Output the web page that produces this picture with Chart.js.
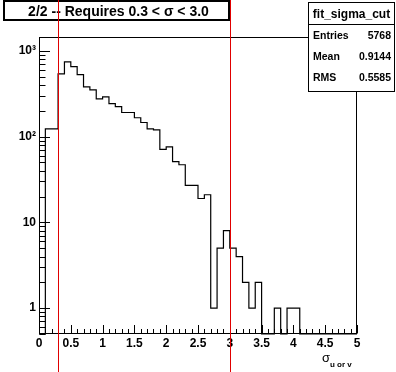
<!DOCTYPE html>
<html><head><meta charset="utf-8">
<script src="https://cdn.jsdelivr.net/npm/chart.js@4/dist/chart.umd.min.js"></script>
<style>html,body{margin:0;padding:0;background:#fff}#wrap{width:396px;height:372px;position:relative}</style>
</head><body>
<div id="wrap"><canvas id="c" width="396" height="372"></canvas></div>
<script>
// ---- data ----
const binLow = [0.0,0.1,0.2,0.3,0.4,0.5,0.6,0.7,0.8,0.9,
                1.0,1.1,1.2,1.3,1.4,1.5,1.6,1.7,1.8,1.9,
                2.0,2.1,2.2,2.3,2.4,2.5,2.6,2.7,2.8,2.9,
                3.0,3.1,3.2,3.3,3.4,3.5,3.6,3.7,3.8,3.9,
                4.0,4.1,4.2,4.3,4.4,4.5,4.6,4.7,4.8,4.9];
const counts = [0,123,123,540,745,656,529,380,351,276,
                291,243,224,191,191,166,146,123,120,71,
                76,51,47,27,27,19,21,1,5,8,
                5,4,2,1,2,0,0,1,0,1,
                1,0,0,0,0,0,0,0,0,0];
const xRange = [0, 5];
const yRange = [0.5, 1450];
const xTickLabels = [0,0.5,1,1.5,2,2.5,3,3.5,4,4.5,5];
const yTickValues = [1,10,100,1000];
const yTickLabels = ['1','10','10\u00B2','10\u00B3'];
const cuts = [0.3, 3.0];
const titleText = '2/2 -- Requires 0.3 < \u03C3 < 3.0';
const statsName = 'fit_sigma_cut';
const statsLabels = ['Entries','Mean','RMS'];
const statsValues = ['5768','0.9144','0.5585'];

const FONT = '"Liberation Sans", Arial, Helvetica, sans-serif';

const points = binLow.map((x,i)=>({x:x, y:Math.max(counts[i], yRange[0])}));
points.push({x:xRange[1], y:Math.max(counts[counts.length-1], yRange[0])});

const overlay = {
  id:'overlay',
  afterDraw(chart){
    const ctx = chart.ctx, a = chart.chartArea, xs = chart.scales.x, ys = chart.scales.y;
    ctx.save();
    ctx.strokeStyle = '#000'; ctx.lineWidth = 1;
    const L = Math.round(a.left)+0.5, R = Math.round(a.right)-0.5, T = Math.round(a.top)+0.5, B = Math.round(a.bottom)-0.5;
    ctx.strokeRect(L, T, R-L, B-T);
    ctx.beginPath();
    for (let k=0;k<=50;k++){
      const v = k/10; const px = Math.round(xs.getPixelForValue(v))+0.5;
      const len = (k%5===0)?8.5:4.5;
      ctx.moveTo(px, B); ctx.lineTo(px, B-len);
    }
    for (let d of [0.1,1,10,100,1000]){
      for (let k=1;k<=9;k++){
        const v = k*d;
        if (v < yRange[0] || v > yRange[1]) continue;
        const py = Math.round(ys.getPixelForValue(v))+0.5;
        const len = (k===1)?10.5:6;
        ctx.moveTo(L, py); ctx.lineTo(L+len, py);
      }
    }
    ctx.stroke();

    // title box
    ctx.fillStyle='#fff';
    ctx.fillRect(4,1,225,19);
    ctx.lineWidth=2;
    ctx.strokeRect(4,1,225,19);
    ctx.fillStyle='#000';
    ctx.font='bold 14px '+FONT;
    ctx.textAlign='center'; ctx.textBaseline='alphabetic';
    ctx.fillText(titleText, 118.5, 15.5);

    // stats box
    ctx.lineWidth=1;
    ctx.fillStyle='#fff';
    ctx.fillRect(308.5,2.5,86,89);
    ctx.strokeRect(308.5,2.5,86,89);
    ctx.beginPath(); ctx.moveTo(308.5,24.5); ctx.lineTo(394.5,24.5); ctx.stroke();
    ctx.fillStyle='#000';
    ctx.font='bold 12px '+FONT;
    ctx.textAlign='center';
    ctx.fillText(statsName, 351.5, 18);
    ctx.font='bold 10.5px '+FONT;
    const rowsY=[39,59.5,81];
    statsLabels.forEach((s,i)=>{
      ctx.textAlign='left'; ctx.fillText(s, 313, rowsY[i]);
      ctx.textAlign='right'; ctx.fillText(statsValues[i], 391, rowsY[i]);
    });

    // axis title
    ctx.textAlign='left';
    ctx.font='13px '+FONT;
    ctx.fillText('\u03C3', 322, 362);
    ctx.font='bold 8px '+FONT;
    ctx.fillText('u or v', 330, 367);

    // cut lines
    ctx.strokeStyle='#e00000'; ctx.lineWidth=1;
    ctx.beginPath();
    cuts.forEach(c=>{
      const px = Math.round(xs.getPixelForValue(c))+0.5;
      ctx.moveTo(px,0); ctx.lineTo(px,372);
    });
    ctx.stroke();
    ctx.restore();
  }
};

new Chart(document.getElementById('c'), {
  type:'line',
  data:{datasets:[{
    data:points, borderColor:'#000', borderWidth:1.2, pointRadius:0, fill:false,
    stepped:true, tension:0, clip:2
  }]},
  options:{
    responsive:false, animation:false, devicePixelRatio:1,
    layout:{padding:{left:0, top:37, right:39, bottom:0}},
    plugins:{legend:{display:false}, tooltip:{enabled:false}, title:{display:false}},
    scales:{
      x:{type:'linear', min:xRange[0], max:xRange[1],
         grid:{display:false, drawTicks:false}, border:{display:false},
         afterFit(s){ s.height = 38; },
         afterBuildTicks(s){ s.ticks = xTickLabels.map(v=>({value:v})); },
         ticks:{color:'#000', font:{family:FONT, size:12, weight:'bold'}, padding:2, maxRotation:0, autoSkip:false,
                callback:(v)=>String(v)}},
      y:{type:'logarithmic', min:yRange[0], max:yRange[1],
         grid:{display:false, drawTicks:false}, border:{display:false},
         afterFit(s){ s.width = 39; },
         afterBuildTicks(s){ s.ticks = yTickValues.map(v=>({value:v})); },
         ticks:{color:'#000', font:{family:FONT, size:12, weight:'bold'}, padding:3, autoSkip:false,
                callback:(v)=>{ const i=yTickValues.indexOf(v); return i>=0?yTickLabels[i]:''; }}}
    }
  },
  plugins:[overlay]
});
</script>
</body></html>
